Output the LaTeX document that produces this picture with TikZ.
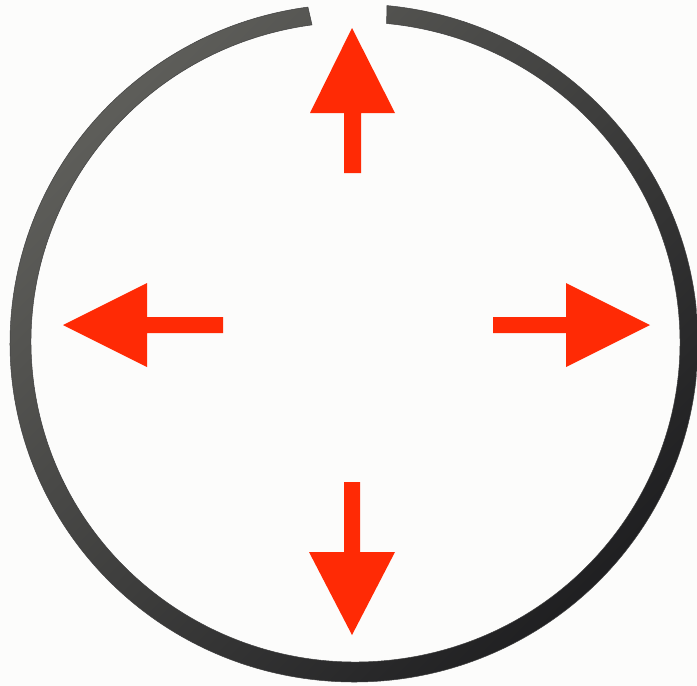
\documentclass[tikz,border=0pt]{standalone}
\usetikzlibrary{calc}
\definecolor{bg}{HTML}{FCFCFB}
\definecolor{arrowred}{HTML}{FF2A05}
\definecolor{ringlight}{HTML}{5E5E5A}
\definecolor{ringdark}{HTML}{1E1E20}
\begin{document}
\begin{tikzpicture}[x=1pt,y=-1pt,
  push/.style={fill=arrowred},
  ring/.style={top color=ringlight, bottom color=ringdark, shading angle=45, draw=black!75, line width=0.5pt}]
\fill[bg] (0,0) rectangle (697,686);
\useasboundingbox (0,0) rectangle (697,686);
% piston ring with a gap at the top
\shadedraw[ring]
  ($(354,343)+(84.5:344pt and 339pt)$)
  arc[start angle=84.5, end angle=-262.3, x radius=344pt, y radius=339pt]
  -- ($(355.5,342)+(97.7:324.5pt and 320pt)$)
  arc[start angle=-262.3, end angle=84.5, x radius=324.5pt, y radius=320pt]
  -- cycle;
% up arrow
\fill[push] (352,28) -- (395,113) -- (361,113) -- (361,173) -- (344,173) -- (344,113) -- (310,113) -- cycle;
% left arrow
\fill[push] (63,325) -- (147,283) -- (147,317) -- (223,317) -- (223,333) -- (147,333) -- (147,367) -- cycle;
% right arrow
\fill[push] (650,325) -- (566,283) -- (566,317) -- (493,317) -- (493,333) -- (566,333) -- (566,367) -- cycle;
% down arrow
\fill[push] (352,635) -- (395,552) -- (360,552) -- (360,482) -- (344,482) -- (344,552) -- (309,552) -- cycle;
\end{tikzpicture}
\end{document}
